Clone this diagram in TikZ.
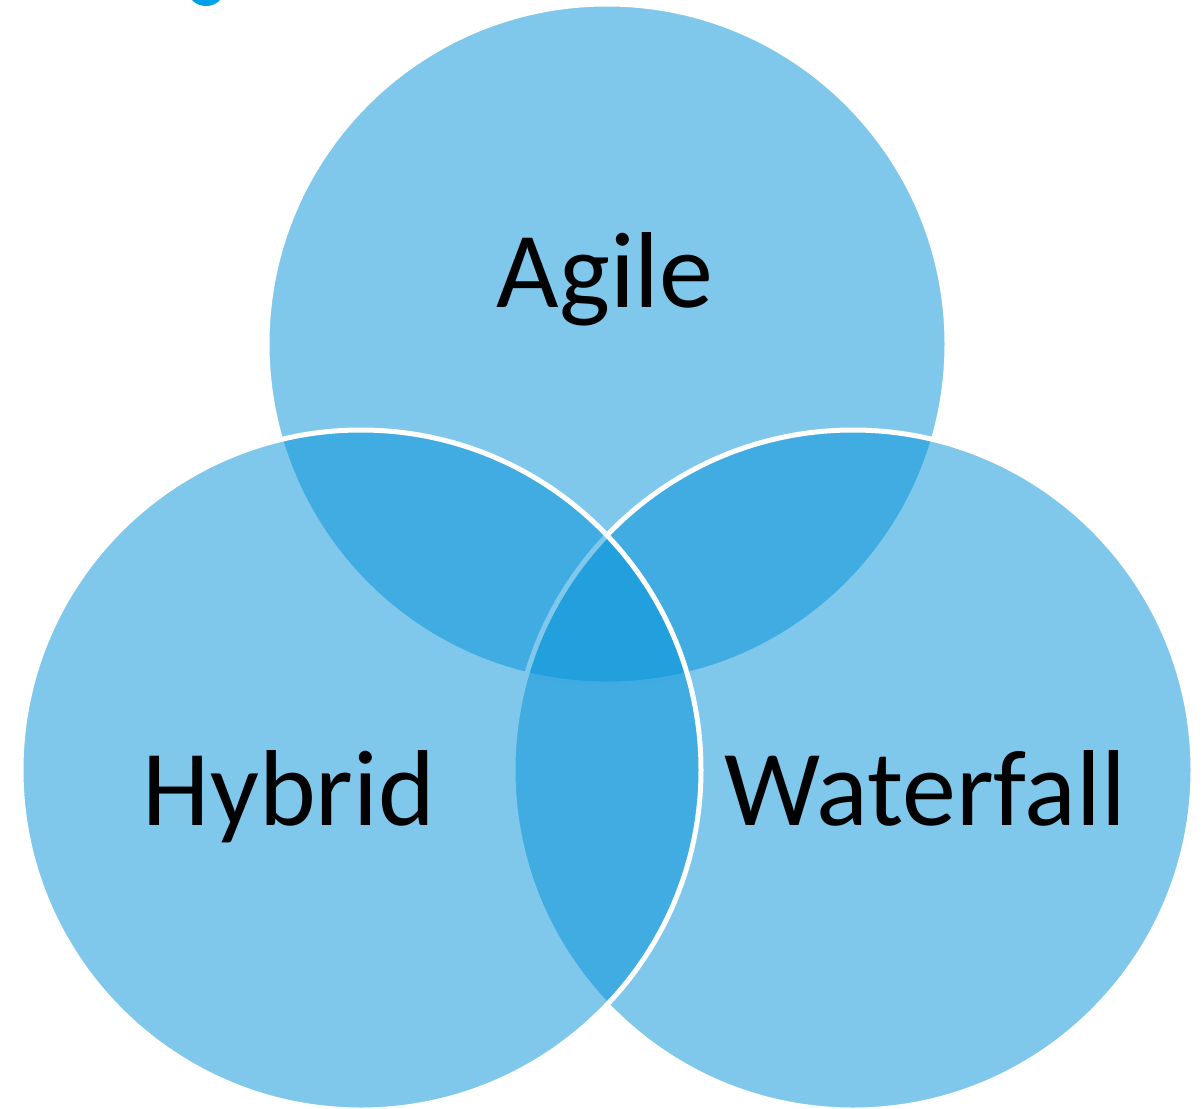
\documentclass[tikz,border=0pt]{standalone}
\usepackage{fontspec}
\setmainfont{Carlito}
\definecolor{vennblue}{RGB}{4,146,216}
\definecolor{blobblue}{RGB}{0,160,232}
\begin{document}
\begin{tikzpicture}[x=1pt,y=-1pt,
  venncircle/.style={circle,minimum size=680pt,inner sep=0pt,outer sep=0pt,fill=vennblue,fill opacity=0.51,draw=white,line width=5pt},
  vennlabel/.style={anchor=base,font=\fontsize{108}{128}\selectfont,text=black}]
\useasboundingbox (0,0) rectangle (1203,1109);
\fill[blobblue] (206,-10) ellipse [x radius=18pt, y radius=16pt];
\node[venncircle] (agilec) at (607,344) {};
\node[venncircle] (waterfallc) at (853,770) {};
\node[venncircle] (hybridc) at (361,770) {};
\node[vennlabel] (agile) at (605,307) {Agile};
\node[vennlabel] (hybrid) at (289,825) {Hybrid};
\node[vennlabel] (waterfall) at (925,825) {Waterfall};
\end{tikzpicture}
\end{document}
